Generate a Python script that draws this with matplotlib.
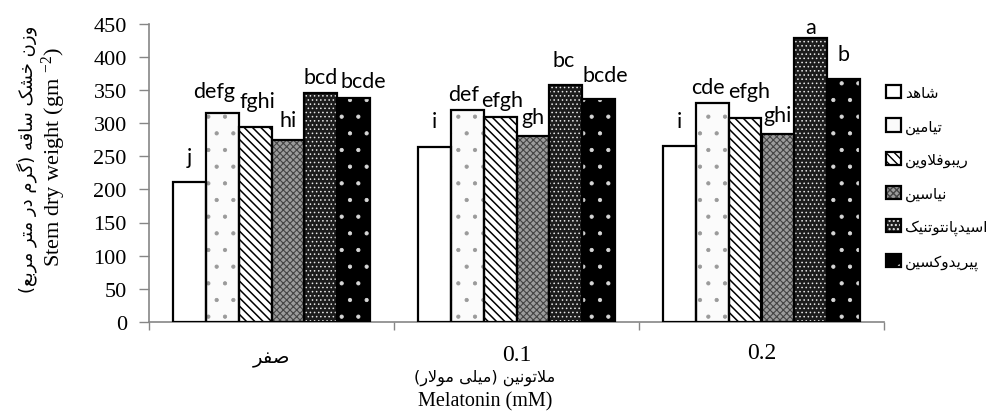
import matplotlib
matplotlib.use('Agg')
import matplotlib.pyplot as plt
from matplotlib.legend_handler import HandlerTuple
from matplotlib.transforms import blended_transform_factory
import numpy as np

# ---------------- data ----------------
groups = ['صفر', '0.1', '0.2']
series_names = ['شاهد', 'تیامین', 'ریبوفلاوین', 'نیاسین', 'اسیدپانتوتنیک', 'پیریدوکسین']

control = [211, 264, 265]
thiamin = [315, 320, 330]
riboflavin = [294, 309, 308]
niacin = [275, 281, 283]
pantothenic = [345, 357, 428]
pyridoxine = [337, 336, 367]

letters_control = ['j', 'i', 'i']
letters_thiamin = ['defg', 'def', 'cde']
letters_riboflavin = ['fghi', 'efgh', 'efgh']
letters_niacin = ['hi', 'gh', 'ghi']
letters_pantothenic = ['bcd', 'bc', 'a']
letters_pyridoxine = ['bcde', 'bcde', 'b']

yticks = [0, 50, 100, 150, 200, 250, 300, 350, 400, 450]

ylabel_fa = 'وزن خشک ساقه (گرم در متر مربع)'
ylabel_en = 'Stem dry weight (gm $^{-2}$)'
xlabel_fa = 'ملاتونین (میلی مولار)'
xlabel_en = 'Melatonin (mM)'

# ---------------- Persian shaping (presentation forms, visual order) ----------------
AR = {
    'ا': (0xFE8D, 0xFE8E, None, None),
    'ب': (0xFE8F, 0xFE90, 0xFE91, 0xFE92),
    'پ': (0xFB56, 0xFB57, 0xFB58, 0xFB59),
    'ت': (0xFE95, 0xFE96, 0xFE97, 0xFE98),
    'خ': (0xFEA5, 0xFEA6, 0xFEA7, 0xFEA8),
    'د': (0xFEA9, 0xFEAA, None, None),
    'ر': (0xFEAD, 0xFEAE, None, None),
    'ز': (0xFEAF, 0xFEB0, None, None),
    'س': (0xFEB1, 0xFEB2, 0xFEB3, 0xFEB4),
    'ش': (0xFEB5, 0xFEB6, 0xFEB7, 0xFEB8),
    'ص': (0xFEB9, 0xFEBA, 0xFEBB, 0xFEBC),
    'ع': (0xFEC9, 0xFECA, 0xFECB, 0xFECC),
    'ف': (0xFED1, 0xFED2, 0xFED3, 0xFED4),
    'ق': (0xFED5, 0xFED6, 0xFED7, 0xFED8),
    'ک': (0xFB8E, 0xFB8F, 0xFB90, 0xFB91),
    'گ': (0xFB92, 0xFB93, 0xFB94, 0xFB95),
    'ل': (0xFEDD, 0xFEDE, 0xFEDF, 0xFEE0),
    'م': (0xFEE1, 0xFEE2, 0xFEE3, 0xFEE4),
    'ن': (0xFEE5, 0xFEE6, 0xFEE7, 0xFEE8),
    'ه': (0xFEE9, 0xFEEA, 0xFEEB, 0xFEEC),
    'و': (0xFEED, 0xFEEE, None, None),
    'ی': (0xFBFC, 0xFBFD, 0xFBFE, 0xFBFF),
    'LA': (0xFEFB, 0xFEFC, None, None),
}
MIRROR = {'(': ')', ')': '('}


def fa(s):
    toks = []
    i = 0
    while i < len(s):
        if s[i] == 'ل' and i + 1 < len(s) and s[i + 1] == 'ا':
            toks.append('LA')
            i += 2
        else:
            toks.append(s[i])
            i += 1
    out = []
    for k, t in enumerate(toks):
        if t not in AR:
            out.append(t)
            continue
        prev = toks[k - 1] if k > 0 else None
        nxt = toks[k + 1] if k + 1 < len(toks) else None
        jp = prev in AR and AR[prev][2] is not None
        jn = nxt in AR and AR[t][2] is not None
        iso, fin, ini, med = AR[t]
        if jp and jn:
            g = med
        elif jp:
            g = fin
        elif jn:
            g = ini
        else:
            g = iso
        out.append(chr(g))
    return ''.join(MIRROR.get(c, c) for c in reversed(out))


def is_fa(s):
    return any(('\u0600' <= c <= '\u06FF') for c in s)


# ---------------- style ----------------
plt.rcParams['font.family'] = ['Liberation Serif', 'DejaVu Sans']
plt.rcParams['mathtext.fontset'] = 'custom'
plt.rcParams['mathtext.rm'] = 'Liberation Serif'
plt.rcParams['mathtext.it'] = 'Liberation Serif:italic'
plt.rcParams['mathtext.default'] = 'regular'
plt.rcParams['hatch.linewidth'] = 1.0

FA_FONT = ['DejaVu Sans']
LBL_FONT = ['Lato', 'DejaVu Sans']
AXIS_GRAY = '#868686'

W, H = 993, 414
fig = plt.figure(figsize=(W / 100, H / 100), dpi=100)
x0, x1, ytop, ybot = 149, 884, 24.5, 323
ax = fig.add_axes([x0 / W, (H - ybot) / H, (x1 - x0) / W, (ybot - ytop) / H])

all_vals = [control, thiamin, riboflavin, niacin, pantothenic, pyridoxine]
all_letters = [letters_control, letters_thiamin, letters_riboflavin,
               letters_niacin, letters_pantothenic, letters_pyridoxine]
styles = [
    dict(face='white', hatch=None, hcolor=None, hlw=1.0),
    dict(face='#fbfbfb', hatch='.', hcolor='#9a9a9a', hlw=0.6),
    dict(face='white', hatch='\\\\\\\\', hcolor='black', hlw=1.1),
    dict(face='#9c9c9c', hatch='xxxxx', hcolor='#444444', hlw=0.8),
    dict(face='#1c1c1c', hatch='....', hcolor='#e8e8e8', hlw=0.6),
    dict(face='black', hatch='.', hcolor='#d8d8d8', hlw=0.6),
]
# label placement relative to bar top (pixels): vertical gap to baseline, horizontal shift
label_gap_px = [
    [19, 20, 19],
    [16, 10, 10],
    [20, 11, 21],
    [14, 13, 13],
    [10, 19, 5],
    [11, 18, 19],
]
label_dx_px = [
    [0, 0, 0],
    [-8, -4, -4],
    [2, 2, 4],
    [0, 0, 0],
    [0, -2, 0],
    [9, 6, 0],
]

n = len(all_vals)
bw = 0.1345
xc = np.arange(len(groups))
handles = []
for i, (vals, st) in enumerate(zip(all_vals, styles)):
    xs = xc + (i - (n - 1) / 2) * bw
    b_face = ax.bar(xs, vals, bw, color=st['face'], linewidth=0, zorder=2)
    parts = [b_face[0]]
    if st['hatch']:
        with plt.rc_context({'hatch.linewidth': st['hlw']}):
            b_h = ax.bar(xs, vals, bw, fill=False, hatch=st['hatch'],
                         edgecolor=st['hcolor'], linewidth=0, zorder=3)
        for p in b_h:
            if hasattr(p, 'set_hatch_linewidth'):
                p.set_hatch_linewidth(st['hlw'])
        parts.append(b_h[0])
    b_e = ax.bar(xs, vals, bw, fill=False, edgecolor='black', linewidth=1.6, zorder=4)
    parts.append(b_e[0])
    handles.append(tuple(parts))
    for j, (xx, v, lab) in enumerate(zip(xs, vals, all_letters[i])):
        ax.annotate(lab, (xx, v),
                    xytext=(label_dx_px[i][j] * 0.72, label_gap_px[i][j] * 0.72),
                    textcoords='offset points', ha='center', va='baseline',
                    fontsize=15.5, family=LBL_FONT, zorder=5)

ax.set_xlim(-0.5, len(groups) - 0.5)
ax.set_ylim(0, 450)
ax.set_yticks(yticks)
ax.set_yticklabels([str(t) for t in yticks])
ax.tick_params(axis='y', direction='out', length=7, width=1, color=AXIS_GRAY,
               labelsize=16, pad=9)
ax.set_xticks(np.arange(len(groups) + 1) - 0.5)
ax.set_xticklabels([])
ax.tick_params(axis='x', direction='out', length=6, width=1, color=AXIS_GRAY)
for s in ['top', 'right']:
    ax.spines[s].set_visible(False)
for s in ['left', 'bottom']:
    ax.spines[s].set_color(AXIS_GRAY)
    ax.spines[s].set_linewidth(1.2)

# category labels
tr = blended_transform_factory(ax.transData, ax.transAxes)
cat_y_px = [359, 356, 354]
for k, g in enumerate(groups):
    ya = (ybot - cat_y_px[k]) / (ybot - ytop)
    if is_fa(g):
        ax.text(xc[k], ya, fa(g), transform=tr, ha='center', va='center',
                fontsize=14, family=FA_FONT)
    else:
        ax.text(xc[k], ya, g, transform=tr, ha='center', va='center', fontsize=17)

# axis titles
fig.text(485 / W, 1 - 378 / H, fa(xlabel_fa), ha='center', va='center',
         fontsize=11.5, family=FA_FONT)
fig.text(485 / W, 1 - 402 / H, xlabel_en, ha='center', va='center', fontsize=14.5)
fig.text(27 / W, 1 - 159 / H, fa(ylabel_fa), rotation=90, ha='center', va='center',
         fontsize=13, family=FA_FONT)
fig.text(54 / W, 1 - 157 / H, ylabel_en, rotation=90, ha='center', va='center',
         fontsize=16)

# legend
leg = ax.legend(handles, [fa(s) for s in series_names],
                handler_map={tuple: HandlerTuple(ndivide=1, pad=0)},
                loc='upper left', bbox_to_anchor=(886 / W, 1 - 86 / H),
                bbox_transform=fig.transFigure, frameon=False,
                prop={'family': FA_FONT, 'size': 11},
                handlelength=0.95, handleheight=0.95, handletextpad=0.3,
                labelspacing=1.2, borderpad=0, borderaxespad=0)

fig.savefig('out.png', dpi=100)
